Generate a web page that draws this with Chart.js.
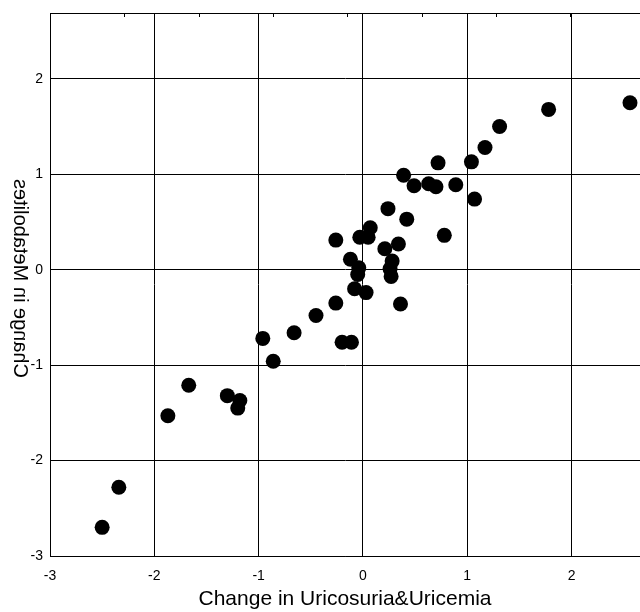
<!DOCTYPE html>
<html>
<head>
<meta charset="utf-8">
<script src="https://cdn.jsdelivr.net/npm/chart.js@4.4.1/dist/chart.umd.min.js"></script>
<style>
  html, body { margin: 0; padding: 0; background: #fff; }
</style>
</head>
<body>
<canvas id="scatter" width="640" height="612"></canvas>
<script>
"use strict"
// change in uricosuria & uricemia (x) vs change in metabolites (y), one pair per subject
const uricChange = [
    2.56, 1.78, 1.31, 1.17, 1.04, 0.72, 0.89, 1.07, 0.39, 0.49, 0.63,
    0.70, 0.24, 0.42, 0.07, -0.03, 0.05, -0.26, 0.78, 0.34, 0.21, -0.12,
    0.28, -0.04, -0.05, 0.26, 0.27, -0.08, 0.03, 0.36, -0.26, -0.45,
    -0.66, -0.96, -0.86, -0.20, -0.11, -1.67, -1.30, -1.18, -1.20,
    -1.87, -2.34, -2.50
];
const metabChange = [
    1.75, 1.68, 1.50, 1.28, 1.13, 1.12, 0.89, 0.74, 0.99, 0.88, 0.90,
    0.87, 0.64, 0.53, 0.44, 0.34, 0.34, 0.31, 0.36, 0.27, 0.22, 0.11,
    0.09, 0.02, -0.05, 0.01, -0.07, -0.20, -0.24, -0.36, -0.35, -0.48,
    -0.66, -0.72, -0.96, -0.76, -0.76, -1.21, -1.32, -1.37, -1.45,
    -1.53, -2.28, -2.70
];

const xTicks = [-3, -2, -1, 0, 1, 2];
const yTicks = [-3, -2, -1, 0, 1, 2];
const topTicks = [1, 2, 3, 4, 5, 6, 7];
const xTitle = "Change in Uricosuria&Uricemia";
const yTitle = "Change in Metabolites";

const fontFamily = "'Liberation Sans', Arial, sans-serif";

const points = uricChange.map((x, i) => ({ x: x, y: metabChange[i] }));

// top frame line, short inward ticks on the top edge, flipped y title
const framePlugin = {
    id: "frame",
    afterDraw(chart) {
        const ctx = chart.ctx;
        const area = chart.chartArea;
        const top = chart.scales.x2;
        ctx.save();
        ctx.strokeStyle = "#000";
        ctx.lineWidth = 1;
        ctx.beginPath();
        ctx.moveTo(area.left, Math.round(area.top) + 0.5);
        ctx.lineTo(area.right, Math.round(area.top) + 0.5);
        topTicks.forEach(v => {
            const px = Math.round(top.getPixelForValue(v)) + 0.5;
            ctx.moveTo(px, area.top);
            ctx.lineTo(px, area.top + 4);
        });
        ctx.stroke();

        ctx.fillStyle = "#000";
        ctx.font = "20px " + fontFamily;
        ctx.textAlign = "center";
        ctx.textBaseline = "middle";
        ctx.translate(20, (area.top + area.bottom) / 2 - 6);
        ctx.rotate(-Math.PI / 2);
        ctx.scale(1, -1);
        ctx.fillText(yTitle, 0, 0);
        ctx.restore();
    }
};

new Chart(document.getElementById("scatter"), {
    type: "scatter",
    data: {
        datasets: [
            {
                data: points,
                backgroundColor: "#000",
                borderWidth: 0,
                pointRadius: 7.5,
                pointHoverRadius: 7.5,
            },
        ],
    },
    plugins: [framePlugin],
    options: {
        responsive: false,
        animation: false,
        layout: {
            autoPadding: false,
            padding: { top: 13, right: 0, bottom: 0, left: 0 },
        },
        plugins: {
            legend: { display: false },
            tooltip: { enabled: false },
        },
        scales: {
            x: {
                type: "linear",
                min: -3,
                max: 2.656,
                afterBuildTicks: (s) => { s.ticks = xTicks.map(v => ({ value: v })); },
                afterFit: (s) => {
                    s.height = 56;
                    s.paddingLeft = 0;
                    s.paddingRight = 0;
                },
                grid: { color: "#000", drawTicks: false },
                border: { color: "#000" },
                ticks: {
                    color: "#000",
                    padding: 12,
                    font: { family: fontFamily, size: 14 },
                },
                title: {
                    display: true,
                    text: xTitle,
                    color: "#000",
                    font: { family: fontFamily, size: 21 },
                    padding: { top: 0, bottom: 0 },
                },
            },
            x2: {
                type: "linear",
                position: "top",
                display: false,
                min: 0,
                max: 7.94,
            },
            y: {
                type: "linear",
                min: -3,
                max: 2.69,
                afterBuildTicks: (s) => { s.ticks = yTicks.map(v => ({ value: v })); },
                afterFit: (s) => {
                    s.width = 50;
                    s.paddingTop = 0;
                    s.paddingBottom = 0;
                },
                grid: { color: "#000", drawTicks: false },
                border: { color: "#000" },
                ticks: {
                    color: "#000",
                    padding: 7,
                    font: { family: fontFamily, size: 14 },
                },
            },
        },
    },
});
</script>
</body>
</html>
